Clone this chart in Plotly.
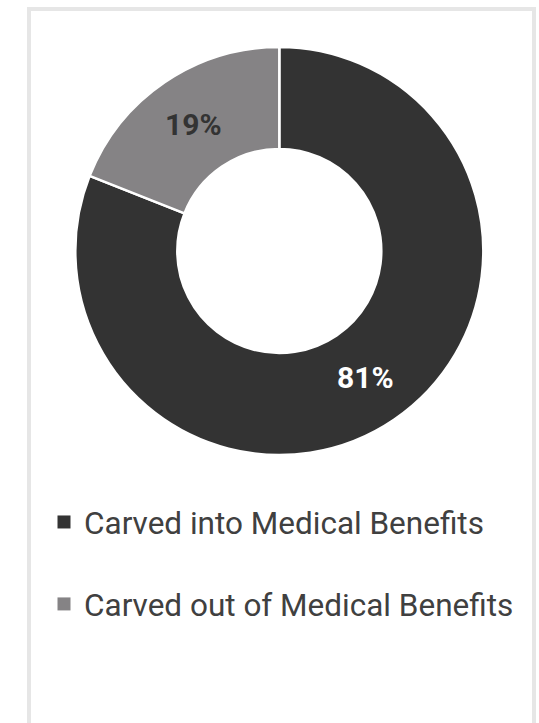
import plotly.graph_objects as go

# Share of plans by behavioural-health benefit arrangement
categories = ["Carved into Medical Benefits", "Carved out of Medical Benefits"]
shares = [81, 19]
slice_colors = ["#333333", "#858385"]
label_colors = ["#ffffff", "#333333"]

W, H = 539, 723

fig = go.Figure()

fig.add_trace(go.Pie(
    labels=categories,
    values=shares,
    hole=0.5,
    sort=False,
    direction="clockwise",
    rotation=0,
    marker=dict(colors=slice_colors, line=dict(color="#ffffff", width=2.5)),
    texttemplate="%{value}%",
    textposition="inside",
    insidetextorientation="horizontal",
    textfont=dict(family="Roboto", size=30, color=label_colors, weight="bold"),
    showlegend=False,
    hoverinfo="label+percent",
    domain=dict(x=[75.3 / W, 483.3 / W], y=[1 - 455 / H, 1 - 47 / H]),
))

# Legend entries (one per category) drawn as square swatches
for name, color in zip(categories, slice_colors):
    fig.add_trace(go.Scatter(
        x=[None], y=[None],
        mode="markers",
        name=name,
        legendgroup=name,
        marker=dict(symbol="square", size=13, color=color),
        hoverinfo="skip",
    ))

fig.update_layout(
    width=W, height=H,
    margin=dict(l=0, r=0, t=0, b=0),
    paper_bgcolor="#ffffff",
    plot_bgcolor="#ffffff",
    xaxis=dict(visible=False),
    yaxis=dict(visible=False),
    showlegend=True,
    legend=dict(
        x=44 / W, xanchor="left",
        y=1 - 495 / H, yanchor="top",
        orientation="v",
        traceorder="grouped",
        tracegroupgap=38,
        font=dict(family="Roboto", size=31.5, color="#404040"),
        bgcolor="rgba(0,0,0,0)",
        itemclick=False,
    ),
    shapes=[dict(
        type="rect", xref="paper", yref="paper",
        x0=29 / W, x1=534 / W, y0=-0.05, y1=1 - 9 / H,
        line=dict(color="#e6e6e6", width=4),
        fillcolor="rgba(0,0,0,0)",
        layer="below",
    )],
)

fig.write_html("out.html")
